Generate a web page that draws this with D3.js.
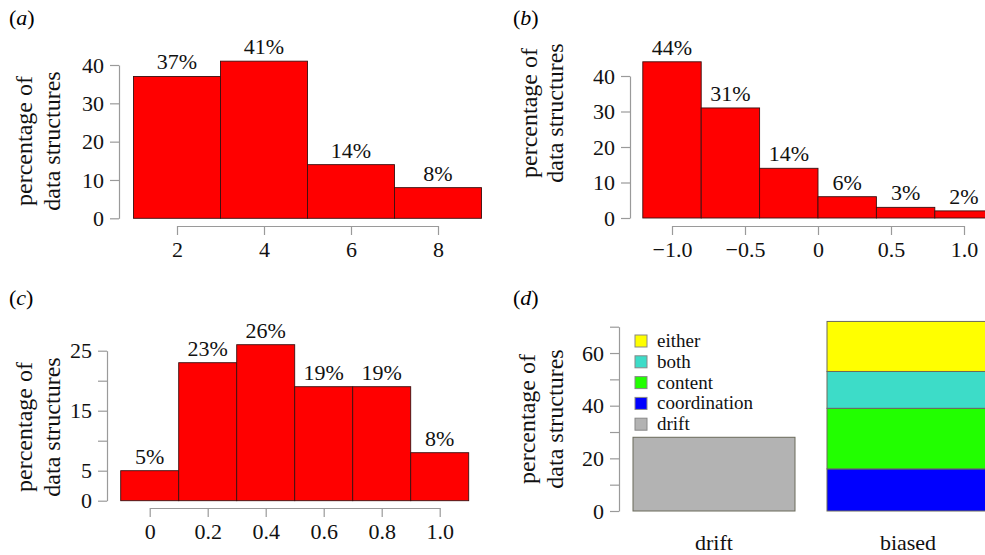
<!DOCTYPE html>
<html>
<head>
<meta charset="utf-8">
<script src="https://cdn.jsdelivr.net/npm/d3@7"></script>
<style>
  body { margin: 0; background: #fff; }
  svg text { font-family: "Liberation Serif", "DejaVu Serif", "Noto Serif", "Times New Roman", "Nimbus Roman", "FreeSerif", Tinos, Georgia, serif; }
  .axis path, .axis line { stroke: #9a9a9a; stroke-width: 1.2; }
  .axis text { fill: #111; font-size: 22px; }
</style>
</head>
<body>
<div id="chart"></div>
<script>
// panel (a): bin edges and percentages
const edgesA = [1, 3, 5, 7, 9];
const valuesA = [37, 41, 14, 8];
const xTicksA = [2, 4, 6, 8];
const xLabelsA = ['2', '4', '6', '8'];
const yTicksA = [0, 10, 20, 30, 40];
const yLabelsA = ['0', '10', '20', '30', '40'];

// panel (b)
const edgesB = [-1.2, -0.8, -0.4, 0, 0.4, 0.8, 1.2];
const valuesB = [44, 31, 14, 6, 3, 2];
const xTicksB = [-1, -0.5, 0, 0.5, 1];
const xLabelsB = ['\u22121.0', '\u22120.5', '0', '0.5', '1.0'];
const yTicksB = [0, 10, 20, 30, 40];
const yLabelsB = ['0', '10', '20', '30', '40'];

// panel (c)
const edgesC = [-0.1, 0.1, 0.3, 0.5, 0.7, 0.9, 1.1];
const valuesC = [5, 23, 26, 19, 19, 8];
const xTicksC = [0, 0.2, 0.4, 0.6, 0.8, 1.0];
const xLabelsC = ['0', '0.2', '0.4', '0.6', '0.8', '1.0'];
const yTicksC = [0, 5, 10, 15, 20, 25];
const yLabelsC = ['0', '5', '', '15', '', '25'];

// panel (d): stacked bars
const categoriesD = ['drift', 'biased'];
const seriesD = ['coordination', 'content', 'both', 'either', 'drift'];
const valuesD = [
  { category: 'drift', coordination: 0, content: 0, both: 0, either: 0, drift: 28 },
  { category: 'biased', coordination: 16, content: 23, both: 14, either: 19, drift: 0 }
];
const legendD = ['either', 'both', 'content', 'coordination', 'drift'];
const yTicksD = [0, 10, 20, 30, 40, 50, 60, 70];
const yLabelsD = ['0', '', '20', '', '40', '', '60', ''];

const colorsD = {
  either: '#ffff00',
  both: '#3ddcc8',
  content: '#22ff00',
  coordination: '#0000ff',
  drift: '#b3b3b3'
};

const width = 985, height = 555;
const svg = d3.select('#chart').append('svg')
  .attr('width', width)
  .attr('height', height);

// panel letter like "(a)"
function panelLabel(x, y, letter) {
  const t = svg.append('text')
    .attr('x', x).attr('y', y)
    .attr('font-size', 22);
  t.append('tspan').text('(');
  t.append('tspan').attr('font-style', 'italic').text(letter);
  t.append('tspan').text(')');
}

// two-line rotated y title
function yTitle(xFirst, xSecond, yCenter) {
  const lines = [['percentage of', xFirst], ['data structures', xSecond]];
  lines.forEach(([txt, x]) => {
    svg.append('text')
      .attr('transform', `translate(${x},${yCenter}) rotate(-90)`)
      .attr('text-anchor', 'middle')
      .attr('font-size', 24)
      .attr('fill', '#111')
      .text(txt);
  });
}

function leftAxis(y, ticks, labels, xPos) {
  svg.append('g')
    .attr('class', 'axis')
    .attr('transform', `translate(${xPos},0)`)
    .call(d3.axisLeft(y)
      .tickValues(ticks)
      .tickFormat((d, i) => labels[i])
      .tickSize(9)
      .tickSizeOuter(0)
      .tickPadding(6));
}

function bottomAxis(x, ticks, labels, yPos) {
  svg.append('g')
    .attr('class', 'axis')
    .attr('transform', `translate(0,${yPos})`)
    .call(d3.axisBottom(x)
      .tickValues(ticks)
      .tickFormat((d, i) => labels[i])
      .tickSize(9)
      .tickSizeOuter(0)
      .tickPadding(6));
}

// histogram panel with percentage labels on top of each bar
function drawHistogram(cfg) {
  const x = d3.scaleLinear().domain(cfg.xDomain).range(cfg.xRange);
  const y = d3.scaleLinear().domain(cfg.yDomain).range(cfg.yRange);

  const bins = cfg.values.map((v, i) => ({ x0: cfg.edges[i], x1: cfg.edges[i + 1], v: v }));

  svg.append('g').selectAll('rect')
    .data(bins)
    .enter().append('rect')
    .attr('x', d => x(d.x0))
    .attr('y', d => y(d.v))
    .attr('width', d => x(d.x1) - x(d.x0))
    .attr('height', d => y(0) - y(d.v))
    .attr('fill', '#ff0000')
    .attr('stroke', '#3a1010')
    .attr('stroke-width', 0.9);

  svg.append('g').selectAll('text')
    .data(bins)
    .enter().append('text')
    .attr('x', d => (x(d.x0) + x(d.x1)) / 2)
    .attr('y', d => y(d.v) - 7)
    .attr('text-anchor', 'middle')
    .attr('font-size', 22)
    .attr('fill', '#111')
    .text(d => `${d.v}%`);

  leftAxis(y, cfg.yTicks, cfg.yLabels, cfg.yAxisX);
  bottomAxis(x, cfg.xTicks, cfg.xLabels, cfg.xAxisY);
  yTitle(cfg.titleX[0], cfg.titleX[1], cfg.titleY);
  panelLabel(cfg.labelPos[0], cfg.labelPos[1], cfg.letter);
}

drawHistogram({
  edges: edgesA, values: valuesA,
  xDomain: [2, 8], xRange: [177, 438],
  yDomain: [0, 40], yRange: [218.3, 65],
  xTicks: xTicksA, xLabels: xLabelsA,
  yTicks: yTicksA, yLabels: yLabelsA,
  yAxisX: 119, xAxisY: 226,
  titleX: [32, 60], titleY: 141,
  labelPos: [9, 25], letter: 'a'
});

drawHistogram({
  edges: edgesB, values: valuesB,
  xDomain: [-1, 1], xRange: [672, 964],
  yDomain: [0, 40], yRange: [218, 76],
  xTicks: xTicksB, xLabels: xLabelsB,
  yTicks: yTicksB, yLabels: yLabelsB,
  yAxisX: 630, xAxisY: 226,
  titleX: [537, 563], titleY: 113,
  labelPos: [513, 25], letter: 'b'
});

drawHistogram({
  edges: edgesC, values: valuesC,
  xDomain: [0, 1], xRange: [149.7, 439.7],
  yDomain: [0, 25], yRange: [500.7, 350.7],
  xTicks: xTicksC, xLabels: xLabelsC,
  yTicks: yTicksC, yLabels: yLabelsC,
  yAxisX: 107, xAxisY: 508,
  titleX: [32, 60], titleY: 427,
  labelPos: [9, 305], letter: 'c'
});

// panel (d): stacked bars
(function drawStacked() {
  const x = d3.scaleBand().domain(categoriesD).range([633, 989]).paddingInner(32 / 194);
  const y = d3.scaleLinear().domain([0, 70]).range([511, 326.7]);

  const stacked = d3.stack().keys(seriesD)(valuesD);

  const layers = svg.append('g').selectAll('g')
    .data(stacked)
    .enter().append('g')
    .attr('fill', d => colorsD[d.key]);

  layers.selectAll('rect')
    .data(d => d.filter(p => p[1] - p[0] > 0))
    .enter().append('rect')
    .attr('x', d => x(d.data.category))
    .attr('y', d => y(d[1]))
    .attr('width', x.bandwidth())
    .attr('height', d => y(d[0]) - y(d[1]))
    .attr('stroke', '#6a6a5a')
    .attr('stroke-width', 1);

  leftAxis(y, yTicksD, yLabelsD, 619);

  svg.append('g').selectAll('text')
    .data(categoriesD)
    .enter().append('text')
    .attr('x', d => x(d) + x.bandwidth() / 2)
    .attr('y', 550)
    .attr('text-anchor', 'middle')
    .attr('font-size', 22)
    .attr('fill', '#111')
    .text(d => d);

  // legend
  const legend = svg.append('g').selectAll('g')
    .data(legendD)
    .enter().append('g')
    .attr('transform', (d, i) => `translate(635,${341 + i * 20.8})`);

  legend.append('rect')
    .attr('x', 0).attr('y', -6)
    .attr('width', 12).attr('height', 12)
    .attr('fill', d => colorsD[d])
    .attr('stroke', '#888')
    .attr('stroke-width', 1);

  legend.append('text')
    .attr('x', 22).attr('y', 6)
    .attr('font-size', 19)
    .attr('fill', '#111')
    .text(d => d);

  yTitle(535, 563, 419);
  panelLabel(513, 305, 'd');
})();
</script>
</body>
</html>
